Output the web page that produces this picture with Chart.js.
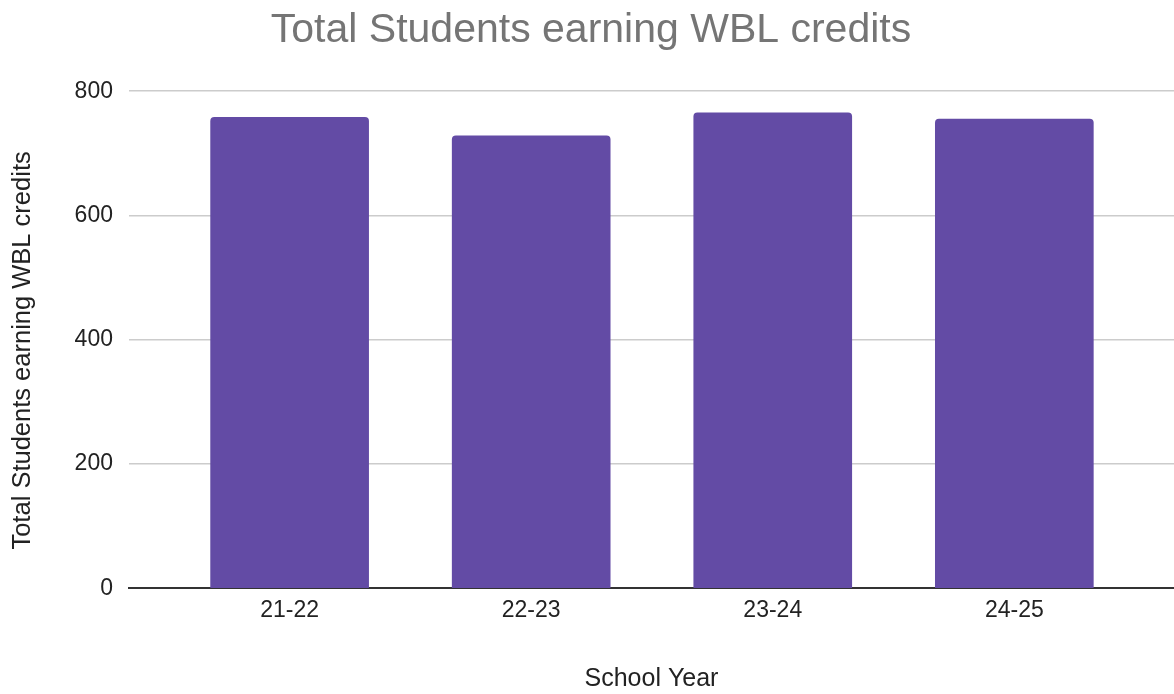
<!DOCTYPE html>
<html>
<head>
<meta charset="utf-8">
<script src="https://cdn.jsdelivr.net/npm/chart.js@4"></script>
<style>
  html, body { margin: 0; padding: 0; background: #fff; }
  #wrap { width: 1174px; height: 694px; }
</style>
</head>
<body>
<div id="wrap"><canvas id="chart" width="1174" height="694"></canvas></div>
<script>
const schoolYears = ['21-22', '22-23', '23-24', '24-25'];
const studentCounts = [758, 728, 765, 755];
const yTicks = [0, 200, 400, 600, 800];

const FONT = "'Liberation Sans', Arial, sans-serif";

const chartInstance = new Chart(document.getElementById('chart'), {
  type: 'bar',
  data: {
    datasets: [
      {
        label: 'Total Students earning WBL credits',
        data: studentCounts.map((v, i) => ({ x: i, y: v })),
        backgroundColor: '#634ba5',
        borderRadius: { topLeft: 4, topRight: 4, bottomLeft: 0, bottomRight: 0 },
        borderSkipped: 'bottom',
        barThickness: 158,
      },
    ],
  },
  options: {
    responsive: false,
    animation: false,
    layout: { padding: { left: 8, right: 0, top: 0, bottom: 0 } },
    plugins: {
      legend: { display: false },
      tooltip: { enabled: false },
      title: {
        display: true,
        text: 'Total Students earning WBL credits',
        color: '#757575',
        font: { family: FONT, size: 41, weight: 'normal' },
        padding: { top: 6, bottom: 36 },
      },
    },
    scales: {
      x: {
        type: 'linear',
        offset: false,
        min: -0.665,
        max: 3.661,
        grid: { display: false, drawTicks: false },
        border: { display: true, color: '#333', width: 2 },
        ticks: {
          stepSize: 1,
          includeBounds: false,
          autoSkip: false,
          maxRotation: 0,
          padding: 8,
          color: '#222',
          font: { family: FONT, size: 23 },
          callback: (value) => (Number.isInteger(value) ? schoolYears[value] : ''),
        },
        title: {
          display: true,
          text: 'School Year',
          color: '#222',
          font: { family: FONT, size: 25 },
          padding: { top: 32, bottom: 0 },
        },
      },
      y: {
        min: yTicks[0],
        max: yTicks[yTicks.length - 1],
        afterBuildTicks: (axis) => {
          axis.ticks = yTicks.map((v) => ({ value: v }));
        },
        grid: {
          drawTicks: false,
          color: (ctx) => (ctx.tick && ctx.tick.value === 0 ? 'rgba(0,0,0,0)' : '#cccccc'),
          lineWidth: 1.5,
        },
        border: { display: false },
        ticks: {
          padding: 16,
          color: '#222',
          font: { family: FONT, size: 23 },
        },
        title: {
          display: true,
          // trailing spaces nudge the rotated title a little lower, like the original
          text: 'Total Students earning WBL credits   ',
          color: '#222',
          font: { family: FONT, size: 25.5 },
          padding: { top: 0, bottom: 20 },
        },
      },
    },
  },
});
</script>
</body>
</html>
